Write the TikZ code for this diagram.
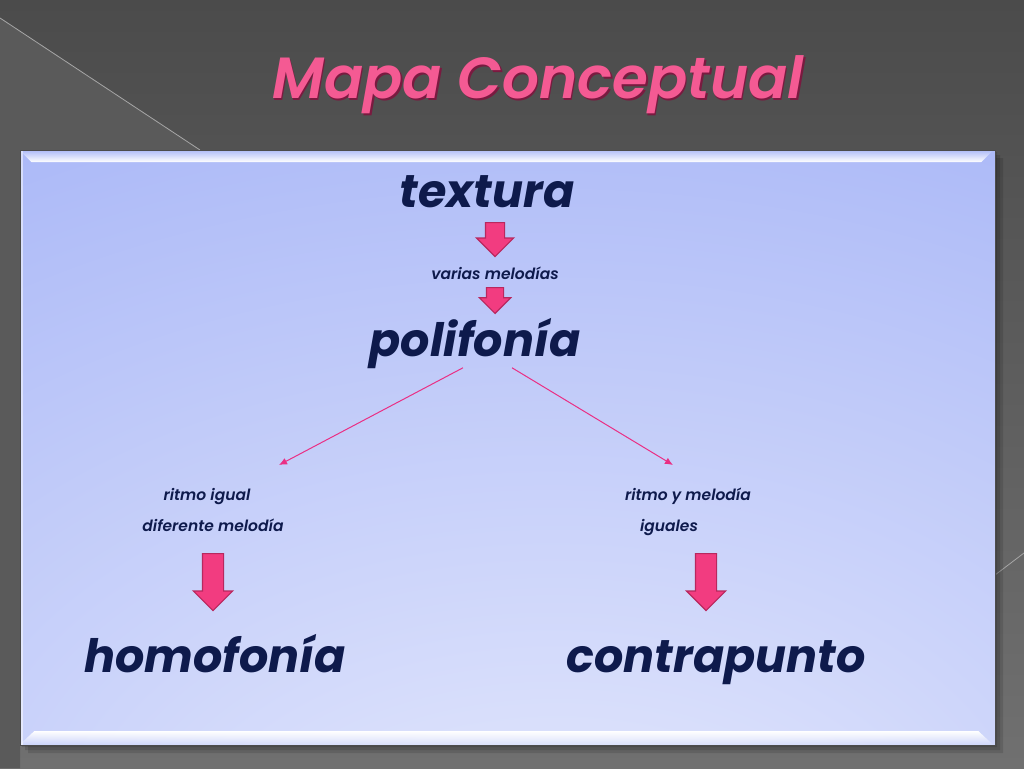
\documentclass[tikz,border=0pt]{standalone}
\usepackage{fontspec}
\setmainfont{Poppins}
\newfontfamily\semi{Poppins}[UprightFont=* SemiBold, ItalicFont=* SemiBold Italic]
\usetikzlibrary{shapes.arrows,arrows.meta,fadings}

\definecolor{fondo}{HTML}{4B4B4B}
\definecolor{fondoclaro}{HTML}{5A5A5A}
\definecolor{fondobajo}{HTML}{707070}
\definecolor{panelclaro}{HTML}{EBEEFD}
\definecolor{panelmedio}{HTML}{CDD5FA}
\definecolor{panelazul}{HTML}{A2B1F7}
\definecolor{panelfuerte}{HTML}{879AF3}
\definecolor{tinta}{HTML}{0E1A4C}
\definecolor{rosa}{HTML}{F23C80}
\definecolor{rosaborde}{HTML}{B8285E}
\definecolor{rosalinea}{HTML}{EA2F84}
\definecolor{titulorosa}{HTML}{F45A93}
\definecolor{titulosombra}{HTML}{7A1A40}

\pgfdeclareradialshading{panelsombra}{\pgfpoint{3bp}{-45bp}}{%
  color(0bp)=(panelclaro); color(25bp)=(panelmedio); color(62bp)=(panelazul);
  color(90bp)=(panelfuerte); color(100bp)=(panelfuerte)}

\begin{document}
\begin{tikzpicture}[x=1pt,y=-1pt,
    titulo/.style={font=\fontsize{58}{64}\selectfont\semi\itshape},
    concepto/.style={text=tinta, anchor=base, font=\fontsize{46}{52}\selectfont\bfseries\itshape},
    nota/.style={text=tinta, anchor=base, font=\fontsize{15.5}{18}\selectfont\semi\itshape},
    flecha/.style={single arrow, shape border rotate=270, draw=rosaborde, fill=rosa,
      line width=1.2pt, anchor=tail},
    linea/.style={draw=rosalinea, line width=1pt, -{Latex[length=8pt,width=7pt]}}]
    \useasboundingbox (0,0) rectangle (1024,768);

    % Background of the slide
    \shade[top color=fondo, bottom color=fondobajo] (0,0) rectangle (1024,768);
    \fill[fondoclaro] (0,18) -- (200,150) -- (20,150) -- (20,768) -- (0,768) -- cycle;
    \draw[gray!70, line width=0.8pt] (0,18) -- (200,150);
    \draw[gray!70, line width=0.8pt] (995,575) -- (1024,553);

    % Panel with its shadow and bevel
    \foreach \s in {2,5,8}
        \fill[black, opacity=0.12] (995,150+\s) rectangle (995+\s,745+\s) (20+\s,745) rectangle (995,745+\s);
    \shade[shading=panelsombra] (20,150) rectangle (995,745);
    \fill[white, path fading=north] (20,150) -- (995,150) -- (983,162) -- (32,162) -- cycle;
    \fill[white, path fading=south] (20,745) -- (995,745) -- (980,731) -- (35,731) -- cycle;
    \fill[white, opacity=0.5] (20,150) rectangle (23,745);
    \draw[black!70, line width=0.6pt] (20,150) rectangle (995,745);

    % Title
    \node[titulo, text=titulosombra] (sombra) at (539.5,86.5) {Mapa Conceptual};
    \node[titulo, text=titulorosa] (titulo) at (538,85) {Mapa Conceptual};

    % Concepts
    \node[concepto] (textura) at (487,207) {textura};
    \node[nota] (varias) at (495,279) {varias melodías};
    \node[concepto] (poli) at (475,356) {polifonía};
    \node[nota] (ritmo1) at (207,500) {ritmo igual};
    \node[nota] (dif) at (213,531) {diferente melodía};
    \node[nota] (ritmo2) at (688,500) {ritmo y melodía};
    \node[nota] (iguales) at (669,531) {iguales};
    \node[concepto] (homo) at (215,672) {homofonía};
    \node[concepto] (contra) at (716,672) {contrapunto};

    % Block arrows
    \node[flecha, inner sep=9pt, single arrow head extend=9pt, minimum height=34pt] (f1) at (495,222) {};
    \node[flecha, inner sep=8pt, single arrow head extend=7pt, minimum height=25pt] (f2) at (495,287) {};
    \node[flecha, inner sep=10pt, single arrow head extend=9pt, minimum height=57pt] (f3) at (213,553) {};
    \node[flecha, inner sep=10pt, single arrow head extend=9pt, minimum height=57pt] (f4) at (706,553) {};

    % Thin arrows from polifonia
    \coordinate (izq) at (279,465);
    \coordinate (der) at (673,465);
    \draw[linea] ([xshift=-12pt,yshift=4pt]poli.south) -- (izq);
    \draw[linea] ([xshift=37pt,yshift=4pt]poli.south) -- (der);
\end{tikzpicture}
\end{document}
